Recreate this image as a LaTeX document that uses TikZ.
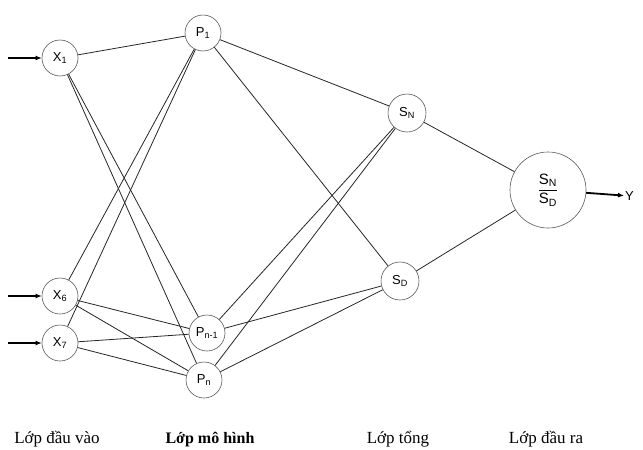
\documentclass[tikz,border=0pt]{standalone}
\usepackage{fontspec}
\setmainfont{Liberation Serif}
\newfontfamily\nodefont{Liberation Sans}
\usetikzlibrary{arrows.meta}
\begin{document}
\begin{tikzpicture}[x=1pt,y=-1pt,
  neuron/.style={circle,draw=black!65,line width=0.6pt,minimum size=36pt,inner sep=0pt,font=\nodefont\fontsize{13}{14}\selectfont},
  link/.style={line width=0.8pt,draw=black!85},
  inarrow/.style={line width=1.8pt,-{Latex[length=6pt,width=5pt]}},
  layerlabel/.style={font=\fontsize{17}{19}\selectfont,anchor=base}]
\useasboundingbox (0,0) rectangle (643,450);
\node[neuron] (x1) at (60,58) {X\textsubscript{1}};
\node[neuron] (x6) at (60,296) {X\textsubscript{6}};
\node[neuron] (x7) at (60,343) {X\textsubscript{7}};
\node[neuron] (p1) at (203,33) {P\textsubscript{1}};
\node[neuron] (pn1) at (207,333) {P\textsubscript{n-1}};
\node[neuron] (pn) at (204,380) {P\textsubscript{n}};
\node[neuron,minimum size=38pt] (sn) at (407,113) {S\textsubscript{N}};
\node[neuron,minimum size=38pt] (sd) at (400,281) {S\textsubscript{D}};
\node[neuron,minimum size=76pt,font=\nodefont\fontsize{15}{16}\selectfont] (out) at (548,190) {$\displaystyle\frac{\mbox{S\textsubscript{N}}}{\mbox{S\textsubscript{D}}}$};
\coordinate (i1) at (8,58);
\coordinate (i6) at (8,296);
\coordinate (i7) at (8,343);
\node[font=\nodefont\fontsize{13}{14}\selectfont,anchor=west,inner sep=1pt] (y) at (624,196) {Y};
\draw[inarrow] (i1) -- (x1);
\draw[inarrow] (i6) -- (x6);
\draw[inarrow] (i7) -- (x7);
\draw[inarrow] (out) -- (y);
\foreach \a in {x1,x6,x7}
  \foreach \b in {p1,pn1,pn}
    \draw[link] (\a) -- (\b);
\foreach \a in {p1,pn1,pn}
  \foreach \b in {sn,sd}
    \draw[link] (\a) -- (\b);
\draw[link] (sn) -- (out);
\draw[link] (sd) -- (out);
\node[layerlabel] (l1) at (57,443) {Lớp đầu vào};
\node[layerlabel,font=\bfseries\fontsize{16}{18}\selectfont] (l2) at (210,443) {Lớp mô hình};
\node[layerlabel] (l3) at (398,443) {Lớp tổng};
\node[layerlabel] (l4) at (546,443) {Lớp đầu ra};
\end{tikzpicture}
\end{document}
